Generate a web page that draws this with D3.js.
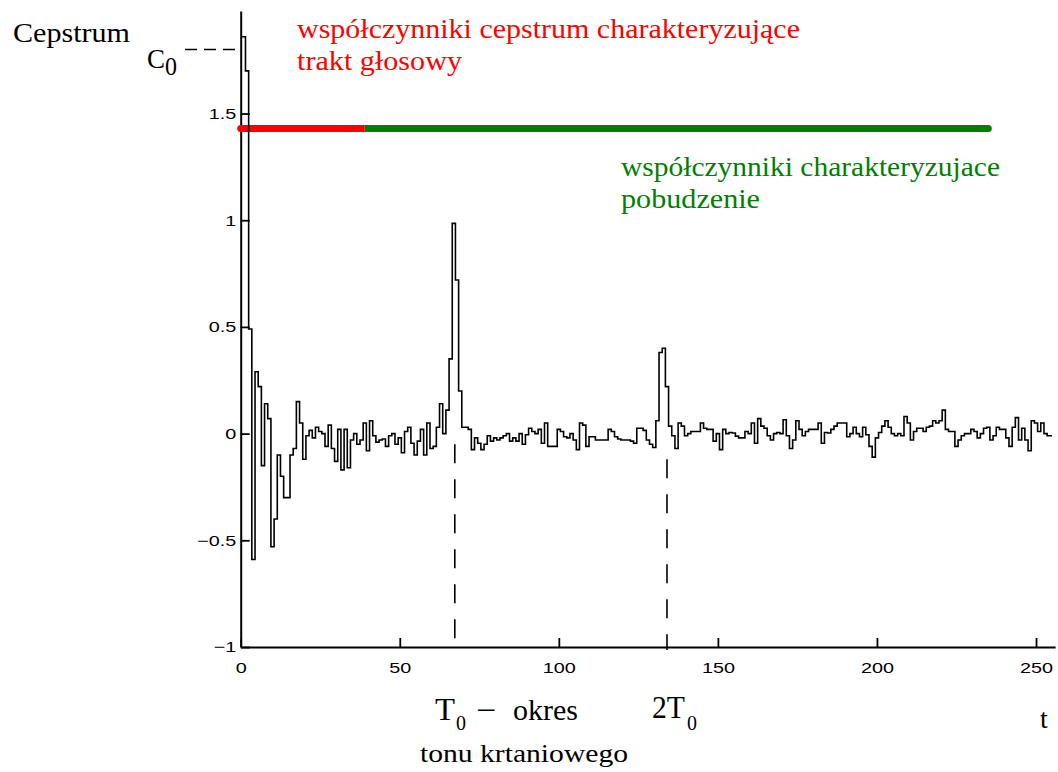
<!DOCTYPE html>
<html>
<head>
<meta charset="utf-8">
<script src="https://cdn.jsdelivr.net/npm/d3@7"></script>
<style>
  body { margin: 0; background: #fff; }
  svg { display: block; }
</style>
</head>
<body>
<svg id="chart" width="1058" height="772"></svg>
<script>
// Real cepstrum of a voiced speech frame, samples t = 0 … 255
const cepstrum = [
  1.86, 1.86, 1.70, 0.49, -0.59, 0.29, 0.22, -0.15, 0.14, 0.07,
  -0.53, -0.40, -0.10, -0.20, -0.30, -0.30, -0.10, -0.07, 0.15, 0.05,
  -0.12, -0.01, 0.015, -0.02, 0.03, 0.01, 0.0, -0.06, 0.04, -0.07,
  -0.13, 0.02, -0.17, 0.02, -0.16, -0.03, 0.0, -0.05, -0.03, 0.05,
  -0.08, 0.06, -0.01, -0.04, -0.03, -0.025, -0.06, -0.01, 0.0, -0.05,
  -0.02, -0.09, 0.01, 0.03, -0.045, -0.10, -0.035, 0.02, -0.10, 0.05,
  -0.07, -0.06, 0.03, 0.14, 0.0, 0.11, 0.35, 0.985, 0.72, 0.20,
  0.03, 0.03, 0.02, -0.075, -0.02, -0.045, -0.075, -0.05, -0.01, -0.035,
  -0.02, -0.03, -0.02, -0.01, 0.0, -0.035, -0.02, -0.035, 0.0, -0.05,
  -0.005, 0.025, 0.01, 0.0, 0.02, -0.045, 0.05, -0.06, -0.06, -0.06,
  0.02, 0.01, -0.015, -0.02, 0.0, -0.03, -0.075, 0.05, 0.04, -0.06,
  -0.015, -0.015, -0.03, -0.03, -0.03, -0.03, 0.02, 0.01, -0.015, -0.025,
  -0.03, -0.03, -0.03, -0.035, -0.045, 0.025, 0.025, 0.015, -0.03, -0.05,
  -0.065, 0.06, 0.38, 0.40, 0.22, 0.035, -0.01, -0.07, 0.05, 0.035,
  -0.01, 0.0, 0.01, 0.01, 0.01, 0.05, 0.025, 0.02, 0.02, -0.035,
  0.0, -0.075, 0.02, 0.0, 0.005, 0.003, -0.012, -0.02, -0.02, 0.01,
  0.0, 0.05, -0.045, 0.07, 0.035, 0.025, -0.01, -0.03, 0.0, 0.005,
  0.0, 0.065, -0.01, -0.07, -0.03, 0.06, 0.02, -0.01, 0.01, 0.02,
  0.02, 0.02, 0.05, -0.045, 0.005, 0.003, 0.02, 0.035, 0.05, 0.05,
  0.05, -0.015, 0.0, 0.03, 0.0, -0.015, 0.03, -0.005, -0.06, -0.11,
  -0.02, 0.005, 0.035, 0.06, 0.03, 0.0, -0.01, 0.0, -0.01, 0.08,
  0.05, -0.03, 0.01, 0.025, 0.025, 0.01, 0.03, 0.035, 0.06, 0.05,
  0.06, 0.11, 0.02, 0.01, 0.01, -0.06, -0.03, -0.01, 0.0, 0.0,
  0.02, 0.01, -0.02, 0.0, 0.025, 0.03, -0.03, -0.01, 0.03, 0.02,
  0.02, -0.02, -0.06, 0.03, 0.075, -0.03, 0.025, -0.03, -0.08, 0.06,
  0.05, 0.01, 0.05, 0.0, -0.01, -0.01
];

const xTicks = [0, 50, 100, 150, 200, 250];
const yTicks = [-1, -0.5, 0, 0.5, 1, 1.5];

// C0 reference level and the band splitting the quefrency axis
const c0Level = 1.8;
const bandLevel = 1.43;
const vocalTractRange = [0, 39];
const excitationRange = [39, 235];

// pitch period T0 and its second multiple, with the value where each marker starts
const pitchMarks = [67.3, 134];
const pitchMarkTops = [-0.05, -0.12];

const serif = "'Liberation Serif', 'Times New Roman', serif";
const sans = "'Liberation Sans', Arial, sans-serif";

const svg = d3.select('#chart');

const x = d3.scaleLinear().domain([0, 256]).range([240.7, 1055.1]);
const y = d3.scaleLinear().domain([-1, 1.98]).range([647, 11.1]);

// ---- axes (ticks point inwards)
const tickScale = 1.32;
const gx = svg.append('g')
  .attr('transform', `translate(0,${y(-1)})`)
  .call(d3.axisBottom(x).tickValues(xTicks).tickSize(-9).tickSizeOuter(0)
        .tickPadding(15).tickFormat(d3.format('d')));
const gy = svg.append('g')
  .attr('transform', `translate(${x(0)},0)`)
  .call(d3.axisLeft(y).tickValues(yTicks).tickSize(-9).tickSizeOuter(0)
        .tickPadding(4.5).tickFormat(d3.format('~g')));

[gx, gy].forEach(g => {
  g.attr('font-family', sans).attr('font-size', 15);
  g.select('.domain').attr('stroke', '#000').attr('stroke-width', 2);
  g.selectAll('.tick line').attr('stroke', '#000').attr('stroke-width', 1.8);
  g.selectAll('.tick text').attr('fill', '#000').attr('transform', `scale(${tickScale},1)`);
});
gy.selectAll('.tick text').attr('x', -4.5 / tickScale);

// ---- band: red = vocal tract coefficients, green = excitation coefficients
const bandW = 7;
svg.append('line')
  .attr('x1', x(excitationRange[0])).attr('x2', x(excitationRange[1]))
  .attr('y1', y(bandLevel)).attr('y2', y(bandLevel))
  .attr('stroke', '#008000').attr('stroke-width', bandW);
svg.append('circle')
  .attr('cx', x(excitationRange[1])).attr('cy', y(bandLevel)).attr('r', bandW / 2)
  .attr('fill', '#008000');
svg.append('line')
  .attr('x1', x(vocalTractRange[0])).attr('x2', x(vocalTractRange[1]))
  .attr('y1', y(bandLevel)).attr('y2', y(bandLevel))
  .attr('stroke', '#ff0000').attr('stroke-width', bandW);
svg.append('circle')
  .attr('cx', x(vocalTractRange[0])).attr('cy', y(bandLevel)).attr('r', bandW / 2)
  .attr('fill', '#ff0000');

// ---- pitch period markers
pitchMarks.forEach((t, i) => {
  svg.append('line')
    .attr('x1', x(t)).attr('x2', x(t))
    .attr('y1', y(pitchMarkTops[i])).attr('y2', y(-1) + 3)
    .attr('stroke', '#000').attr('stroke-width', 1.6)
    .attr('stroke-dasharray', '19,16');
});

// ---- C0 dashed leader
svg.append('line')
  .attr('x1', 185).attr('x2', x(0))
  .attr('y1', y(c0Level)).attr('y2', y(c0Level))
  .attr('stroke', '#000').attr('stroke-width', 1.6)
  .attr('stroke-dasharray', '12,7');

// ---- cepstrum trace
const line = d3.line()
  .x((d, i) => x(i))
  .y(d => y(d))
  .curve(d3.curveStep);
svg.append('path')
  .datum(cepstrum)
  .attr('d', line)
  .attr('fill', 'none')
  .attr('stroke', '#000')
  .attr('stroke-width', 1.6)
  .attr('stroke-linejoin', 'miter');

// ---- text
function label(txt, px, py, size, opts = {}) {
  const t = svg.append('text')
    .attr('x', px).attr('y', py)
    .attr('font-family', opts.family || serif)
    .attr('font-size', size)
    .attr('fill', opts.fill || '#000')
    .text(txt);
  if (opts.len) t.attr('textLength', opts.len).attr('lengthAdjust', 'spacingAndGlyphs');
  return t;
}

label('Cepstrum', 13, 41.5, 27, { len: 117 });
label('C', 147, 68, 27);
label('0', 165, 75, 26, { len: 12 });

label('współczynniki cepstrum  charakteryzujące', 297, 38, 28, { fill: '#ff0000', len: 503 });
label('trakt głosowy', 297, 70, 28, { fill: '#ff0000', len: 165 });
label('współczynniki charakteryzujace', 621, 176, 28, { fill: '#008000', len: 379 });
label('pobudzenie', 621, 208, 28, { fill: '#008000', len: 139 });

label('T', 435, 720, 32, { len: 20 });
label('0', 456, 730, 22, { len: 10 });
label('−', 476, 721, 32, { len: 20 });
label('okres', 513, 720, 29, { len: 65 });
label('2T', 652, 718, 31, { len: 33 });
label('0', 687, 730, 22, { len: 10 });
label('tonu krtaniowego', 420, 762, 26, { len: 208 });
label('t', 1040, 728, 28);
</script>
</body>
</html>
